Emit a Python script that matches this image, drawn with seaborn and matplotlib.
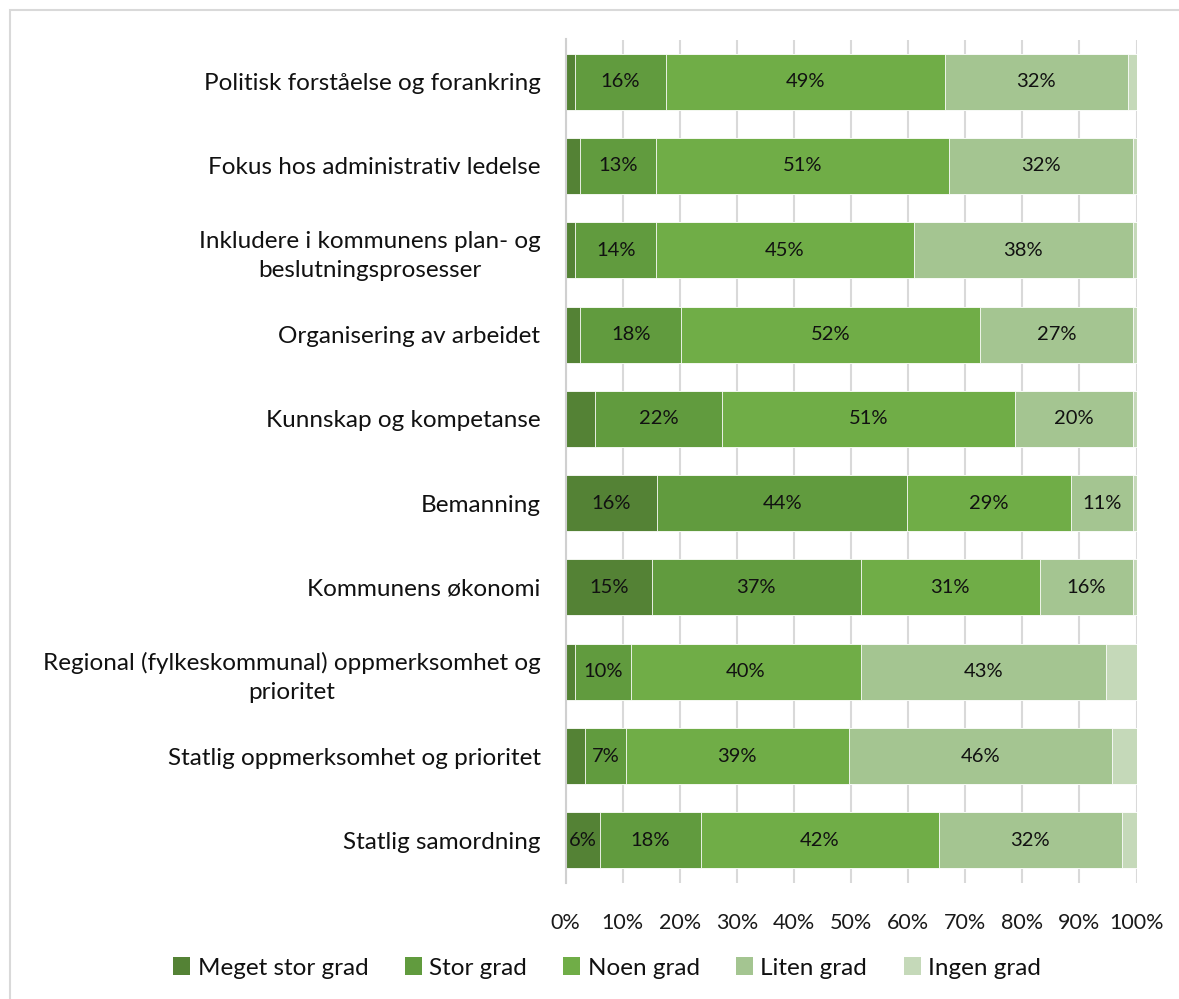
import matplotlib
matplotlib.use("Agg")
import matplotlib.pyplot as plt
import seaborn as sns
import pandas as pd
import numpy as np
from matplotlib.patches import Rectangle, Patch

categories = [
    "Politisk forståelse og forankring",
    "Fokus hos administrativ ledelse",
    "Inkludere i kommunens plan- og\nbeslutningsprosesser",
    "Organisering av arbeidet",
    "Kunnskap og kompetanse",
    "Bemanning",
    "Kommunens økonomi",
    "Regional (fylkeskommunal) oppmerksomhet og\nprioritet",
    "Statlig oppmerksomhet og prioritet",
    "Statlig samordning",
]
series_names = ["Meget stor grad", "Stor grad", "Noen grad", "Liten grad", "Ingen grad"]
meget_stor = [1.7, 2.6, 1.7, 2.6, 5.2, 16.1, 15.1, 1.7, 3.5, 6.0]
stor = [15.9, 13.3, 14.2, 17.7, 22.2, 43.7, 36.6, 9.8, 7.1, 17.7]
noen = [48.8, 51.3, 45.1, 52.3, 51.4, 28.7, 31.4, 40.2, 39.0, 41.7]
liten = [32.1, 32.1, 38.3, 26.7, 20.5, 10.8, 16.2, 43.0, 46.1, 32.0]
ingen = [1.5, 0.7, 0.7, 0.7, 0.7, 0.7, 0.7, 5.3, 4.3, 2.6]
colors = ["#548235", "#619B3E", "#70AD47", "#A4C591", "#C5D9B9"]
xticks = [0, 10, 20, 30, 40, 50, 60, 70, 80, 90, 100]

series = [meget_stor, stor, noen, liten, ingen]

sns.set_theme(style="white")
plt.rcParams["font.family"] = ["Lato", "DejaVu Sans"]

W, H = 1179, 999
fig = plt.figure(figsize=(W / 100, H / 100), dpi=100)
ax = fig.add_axes([565.5 / W, 1 - 882.5 / H, (1136.5 - 565.5) / W, (882.5 - 39.5) / H])

cum = np.zeros(len(categories))
cums = []
for s in series:
    cum = cum + np.array(s)
    cums.append(cum.copy())

# draw cumulative bars from largest to smallest so they stack visually
for i in reversed(range(len(series))):
    d = pd.DataFrame({"Kategori": categories, "v": cums[i]})
    sns.barplot(data=d, x="v", y="Kategori", orient="h", color=colors[i],
                width=0.665, edgecolor="white", linewidth=0.6, saturation=1,
                ax=ax, order=categories)

# data labels
for i, s in enumerate(series):
    for j, v in enumerate(s):
        if v >= 5.5:
            center = cums[i][j] - v / 2
            ax.text(center, j, f"{round(v):d}%", ha="center", va="center",
                    fontsize=14.5, color="#111111")

ax.set_xlim(0, 100)
ax.set_ylim(len(categories) - 0.5, -0.5)
ax.set_xticks(xticks)
ax.set_xticklabels([f"{t}%" for t in xticks], fontsize=15.5, color="#1a1a1a")
ax.tick_params(axis="x", length=0, pad=22)
ax.tick_params(axis="y", length=0, pad=18, labelsize=17.5)
for t in ax.get_yticklabels():
    t.set_multialignment("center")
    t.set_linespacing(1.45)
    t.set_color("#111111")
ax.set_xlabel("")
ax.set_ylabel("")
ax.xaxis.grid(True, color="#D9D9D9", linewidth=1.5)
ax.set_axisbelow(True)
for sp in ["top", "right", "bottom"]:
    ax.spines[sp].set_visible(False)
ax.spines["left"].set_color("#D0D0D0")
ax.spines["left"].set_linewidth(1.5)

handles = [Patch(facecolor=c, edgecolor="none") for c in colors]
fig.legend(handles, series_names, loc="center", bbox_to_anchor=(607 / W, 1 - 968 / H),
           ncol=5, frameon=False, fontsize=17.5, handlelength=0.7, handleheight=0.7,
           handletextpad=0.3, columnspacing=1.5, labelcolor="#111111")

fig.patches.append(Rectangle((10 / W, -0.1), 1.2, 1 - 10 / H + 0.1, transform=fig.transFigure,
                             fill=False, edgecolor="#D9D9D9", linewidth=1.5))

fig.savefig("out.png", dpi=100)
